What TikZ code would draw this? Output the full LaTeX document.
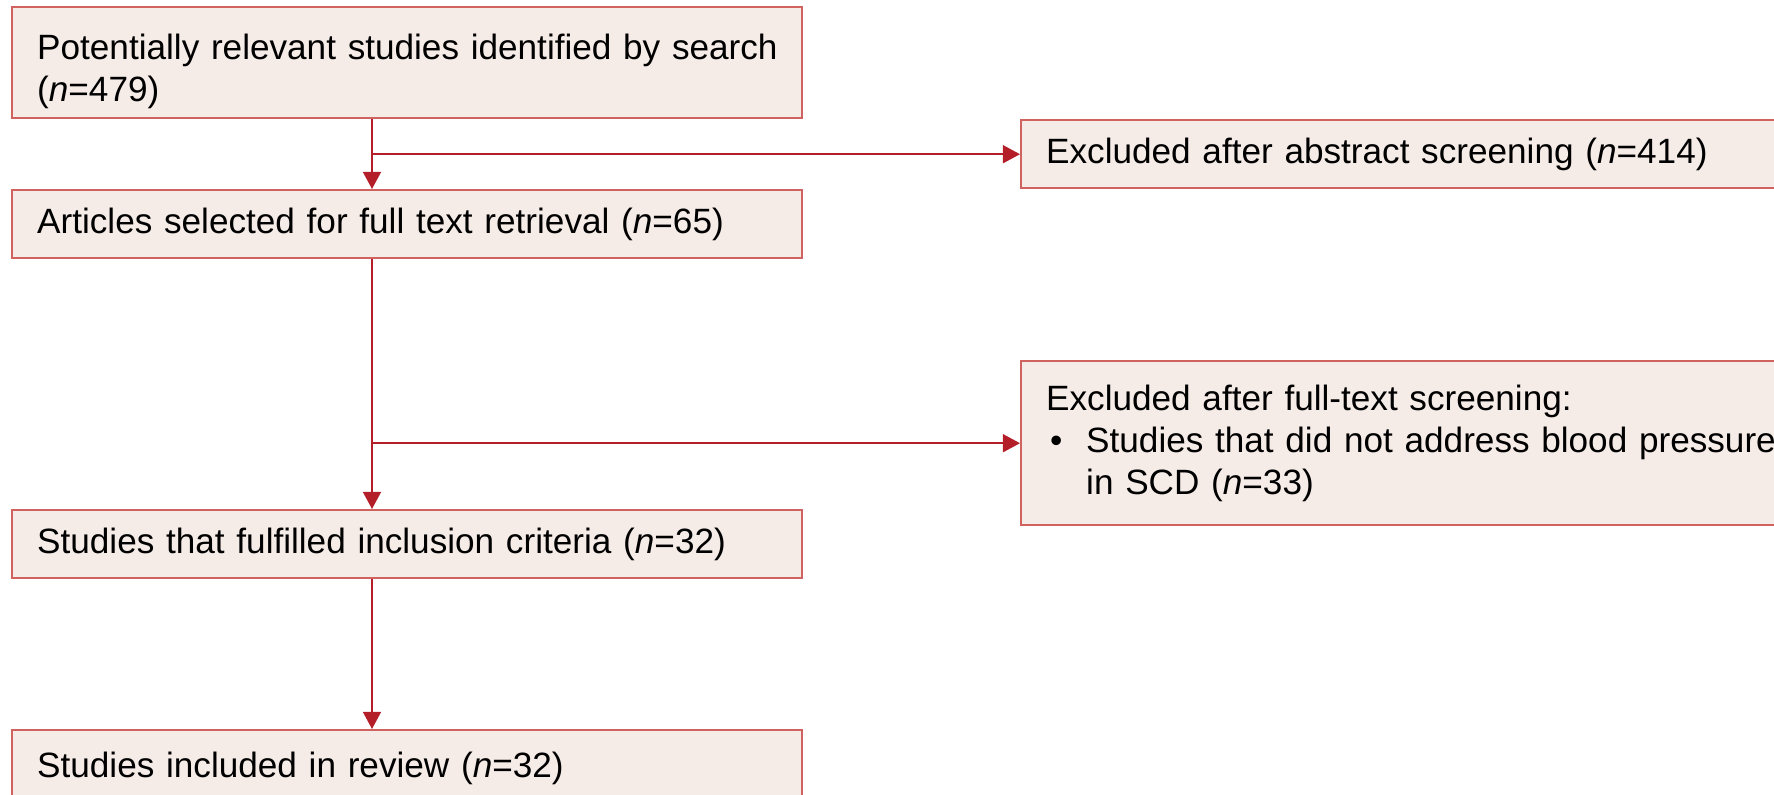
\documentclass[tikz,border=0pt]{standalone}
\usepackage{fontspec}
\setmainfont{Liberation Sans}
\usetikzlibrary{arrows.meta}
\definecolor{boxfill}{RGB}{245,235,231}
\definecolor{boxline}{RGB}{208,98,96}
\definecolor{flowred}{RGB}{180,30,40}
\begin{document}
\begin{tikzpicture}[x=0.25mm, y=-0.25mm,
	flowbox/.style={draw=boxline, fill=boxfill, line width=0.6mm, anchor=north west,
		align=left, inner xsep=6.25mm, inner ysep=0pt, minimum height=17mm,
		font=\fontsize{25}{29.9}\selectfont},
	mainbox/.style={flowbox, text width=185mm},
	sidebox/.style={flowbox, text width=192.5mm},
	flow/.style={draw=flowred, line width=0.5mm, -{Triangle[width=4.5mm,length=4.3mm]}}]
		% Fix the page and cut the boxes at its edges
		\useasboundingbox (0,0) rectangle (1774,794);
		\clip (0,0) rectangle (1774,794);
		% Main stages on the left
		\node[mainbox, minimum height=27.75mm] (search) at (11,6)
			{\rule{0pt}{10.5mm}\mbox{Potentially relevant studies identified by search}\\(\textit{n}=479)};
		\node[mainbox] (fulltext) at (11,189) {Articles selected for full text retrieval (\textit{n}=65)};
		\node[mainbox] (eligible) at (11,509) {Studies that fulfilled inclusion criteria (\textit{n}=32)};
		\node[mainbox, minimum height=19mm] (included) at (11,729) {Studies included in review (\textit{n}=32)};
		% Exclusions on the right
		\node[sidebox] (abstractout) at (1020,119) {Excluded after abstract screening (\textit{n}=414)};
		\node[sidebox, minimum height=41mm] (textout) at (1020,360)
			{Excluded after full-text screening:\\
			\hspace*{1mm}\makebox[9mm][l]{\textbullet}\mbox{Studies that did not address blood pressure}\\
			\hspace*{10mm}in SCD (\textit{n}=33)};
		% The spine that all arrows hang from
		\coordinate (spine) at (372,0);
		\foreach \a/\b in {search/fulltext, fulltext/eligible, eligible/included}
			\draw[flow] (spine |- \a.south) -- (spine |- \b.north);
		\foreach \b in {abstractout, textout}
			\draw[flow] (spine |- \b.west) -- (\b.west);
\end{tikzpicture}
\end{document}
